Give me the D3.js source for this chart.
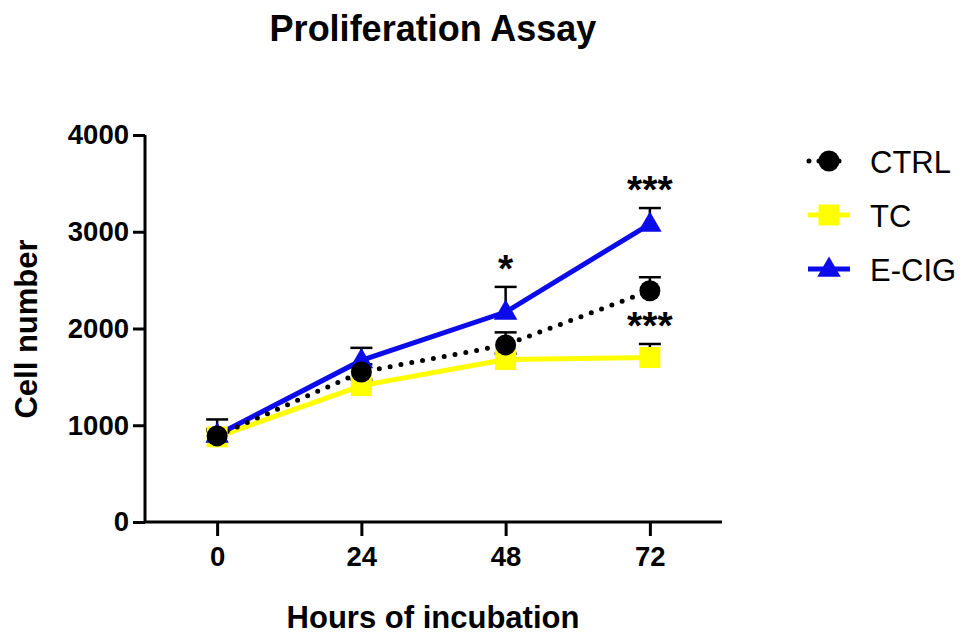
<!DOCTYPE html>
<html><head><meta charset="utf-8">
<script src="https://cdn.jsdelivr.net/npm/d3@7"></script>
<style>body{margin:0;background:#fff}svg{display:block;font-family:"Liberation Sans",Arial,sans-serif}</style>
</head><body><svg id="c" width="962" height="635"></svg>
<script>
const hours = [0, 24, 48, 72];
const yTicks = [0, 1000, 2000, 3000, 4000];
const seriesNames = ["CTRL", "TC", "E-CIG"];
const ctrlValues = [890, 1550, 1830, 2390];
const ctrlErrors = [170, 80, 130, 140];
const tcValues = [880, 1410, 1680, 1700];
const tcErrors = [60, 60, 60, 140];
const ecigValues = [900, 1670, 2170, 3080];
const ecigErrors = [60, 130, 260, 165];
const annotations = [
  {series: "E-CIG", hour: 48, text: "*"},
  {series: "E-CIG", hour: 72, text: "***"},
  {series: "TC", hour: 72, text: "***"}
];

const svg = d3.select("#c");
const x = d3.scaleLinear().domain([-12, 84]).range([145, 722]);
const y = d3.scaleLinear().domain([0, 4000]).range([522, 135]);

const series = {
  "CTRL": {values: ctrlValues, errors: ctrlErrors, color: "#000000", shape: "circle"},
  "TC": {values: tcValues, errors: tcErrors, color: "#ffff00", shape: "square"},
  "E-CIG": {values: ecigValues, errors: ecigErrors, color: "#0c0cea", shape: "triangle"}
};

// title
svg.append("text").attr("x", 433).attr("y", 41).attr("text-anchor", "middle")
  .attr("font-size", 36).attr("font-weight", "bold").text("Proliferation Assay");

// axes
const xAxis = d3.axisBottom(x).tickValues(hours).tickSize(14).tickPadding(10);
const gx = svg.append("g").attr("transform", "translate(0,522)").call(xAxis);
const yAxis = d3.axisLeft(y).tickValues(yTicks).tickFormat(d3.format("d")).tickSize(12).tickPadding(4);
const gy = svg.append("g").attr("transform", "translate(145,0)").call(yAxis);
[gx, gy].forEach(g => {
  g.select(".domain").attr("stroke", "#000").attr("stroke-width", 3);
  g.selectAll(".tick line").attr("stroke", "#000").attr("stroke-width", 3);
  g.selectAll(".tick text").attr("fill", "#000").attr("font-size", 27.5).attr("font-weight", "bold")
    .attr("font-family", "Liberation Sans, Arial, sans-serif");
});
gx.select(".domain").attr("d", "M145,0H722");
gy.select(".domain").attr("d", "M0,522V135");

svg.append("text").attr("x", 433).attr("y", 628).attr("text-anchor", "middle")
  .attr("font-size", 31).attr("font-weight", "bold").text("Hours of incubation");
svg.append("text").attr("transform", "translate(37,329) rotate(-90)").attr("text-anchor", "middle")
  .attr("font-size", 31).attr("font-weight", "bold").text("Cell number");

const line = d3.line().x((d, i) => x(hours[i])).y(d => y(d));

function marker(g, shape, color, cx, cy) {
  if (shape === "circle") g.append("circle").attr("cx", cx).attr("cy", cy).attr("r", 10.5).attr("fill", color);
  else if (shape === "square") g.append("rect").attr("x", cx - 10.5).attr("y", cy - 10.5).attr("width", 21).attr("height", 21).attr("fill", color);
  else g.append("path").attr("d", d3.symbol(d3.symbolTriangle, 240)()).attr("transform", `translate(${cx},${cy + 1})`).attr("fill", color);
}

// error bars (upper only)
const eg = svg.append("g");
["TC", "E-CIG", "CTRL"].forEach(name => {
  const s = series[name];
  s.values.forEach((v, i) => {
    const cx = x(hours[i]), top = y(v + s.errors[i]);
    eg.append("line").attr("x1", cx).attr("x2", cx).attr("y1", y(v)).attr("y2", top).attr("stroke", "#000").attr("stroke-width", 2.5);
    eg.append("line").attr("x1", cx - 11).attr("x2", cx + 11).attr("y1", top).attr("y2", top).attr("stroke", "#000").attr("stroke-width", 2.5);
  });
});

// lines
svg.append("path").attr("d", line(tcValues)).attr("fill", "none").attr("stroke", series["TC"].color).attr("stroke-width", 5);
svg.append("path").attr("d", line(ecigValues)).attr("fill", "none").attr("stroke", series["E-CIG"].color).attr("stroke-width", 5);
svg.append("path").attr("d", line(ctrlValues)).attr("fill", "none").attr("stroke", "#000").attr("stroke-width", 5)
  .attr("stroke-dasharray", "0 11").attr("stroke-linecap", "round");

// markers
const mg = svg.append("g");
["TC", "E-CIG", "CTRL"].forEach(name => {
  const s = series[name];
  s.values.forEach((v, i) => marker(mg, s.shape, s.color, x(hours[i]), y(v)));
});

// annotations
annotations.forEach(a => {
  const s = series[a.series];
  const i = hours.indexOf(a.hour);
  svg.append("text").attr("x", x(a.hour)).attr("y", y(s.values[i] + s.errors[i]) - 5)
    .attr("text-anchor", "middle").attr("font-size", 39).attr("font-weight", "bold").text(a.text);
});

// legend
const lg = svg.append("g");
seriesNames.forEach((name, k) => {
  const s = series[name];
  const ly = 161 + k * 54;
  if (name === "CTRL") {
    lg.append("line").attr("x1", 809).attr("x2", 849).attr("y1", ly).attr("y2", ly).attr("stroke", "#000")
      .attr("stroke-width", 5).attr("stroke-dasharray", "0 10").attr("stroke-linecap", "round");
  } else {
    lg.append("line").attr("x1", 808).attr("x2", 850).attr("y1", ly).attr("y2", ly).attr("stroke", s.color).attr("stroke-width", 5);
  }
  marker(lg, s.shape, s.color, 829, ly);
  lg.append("text").attr("x", 870).attr("y", ly + 12).attr("font-size", 31).text(name);
});
</script></body></html>
